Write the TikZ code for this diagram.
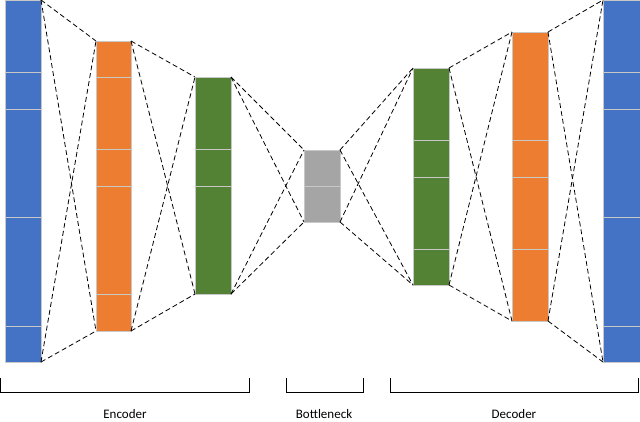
\documentclass[tikz,border=0pt]{standalone}
\usepackage{fontspec}
\setmainfont{Carlito}
\definecolor{cblue}{HTML}{4472C4}
\definecolor{corange}{HTML}{ED7D31}
\definecolor{cgreen}{HTML}{548235}
\definecolor{cgray}{HTML}{A5A5A5}
\definecolor{csep}{HTML}{C8C8C8}
\begin{document}
\begin{tikzpicture}[x=1pt,y=-1pt,
  bar/.style={draw=csep,line width=0.6pt},
  sepline/.style={draw=csep,line width=0.6pt},
  conn/.style={line width=0.8pt,dash pattern=on 5pt off 3pt},
  brk/.style={line width=0.9pt},
  lbl/.style={font=\fontsize{13}{15}\selectfont}]
\useasboundingbox (0,0) rectangle (640,421);
\newcommand\mybar[6]{% name, x1,y1,x2,y2, color
  \path[bar,fill=#6] (#2,#3) rectangle (#4,#5);
  \coordinate (#1tl) at (#2,#3); \coordinate (#1tr) at (#4,#3);
  \coordinate (#1bl) at (#2,#5); \coordinate (#1br) at (#4,#5);}
\newcommand\myseps[3]{\foreach \yy in {#3} \draw[sepline] (#1,\yy) -- (#2,\yy);}
\mybar{bL}{5}{0}{41}{362}{cblue} \myseps{5}{41}{72,109,217,326}
\mybar{oL}{96}{41}{131}{331}{corange} \myseps{96}{131}{77,149,186,294}
\mybar{gL}{195}{77}{231}{294}{cgreen} \myseps{195}{231}{149,186}
\mybar{k}{304}{150}{340}{222}{cgray} \myseps{304}{340}{186}
\mybar{gR}{413}{68}{449}{285}{cgreen} \myseps{413}{449}{140,177,249}
\mybar{oR}{512}{32}{548}{321}{corange} \myseps{512}{548}{140,177,249}
\mybar{bR}{603}{0}{640}{362}{cblue} \myseps{603}{640}{72,109,217,326}
\foreach \a/\b in {bL/oL,oL/gL,gL/k,k/gR,gR/oR,oR/bR}{
  \draw[conn] (\a tr) -- (\b tl);
  \draw[conn] (\a br) -- (\b bl);
  \draw[conn] (\a tr) -- (\b bl);
  \draw[conn] (\a br) -- (\b tl);
}
\draw[brk] (0.5,378) -- (0.5,392) -- (249,392) -- (249,378);
\draw[brk] (286,378) -- (286,392) -- (363,392) -- (363,378);
\draw[brk] (390,378) -- (390,392) -- (638,392) -- (638,378);
\node[lbl] (enc) at (125,414) {Encoder};
\node[lbl] (bot) at (324,414) {Bottleneck};
\node[lbl] (dec) at (514,414) {Decoder};
\end{tikzpicture}
\end{document}
